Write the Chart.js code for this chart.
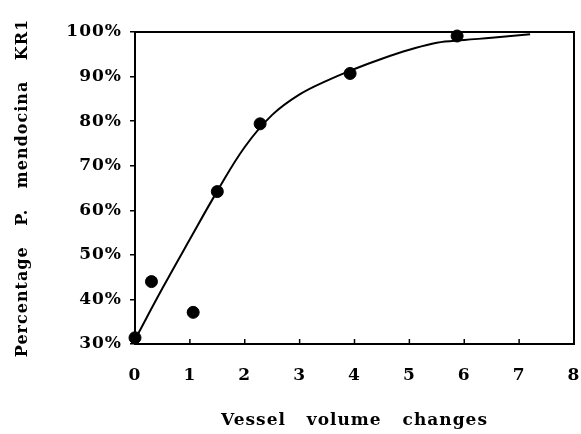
<!DOCTYPE html>
<html>
<head>
<meta charset="utf-8">
<script src="https://cdn.jsdelivr.net/npm/chart.js@4/dist/chart.umd.min.js"></script>
<style>
  body { margin: 0; background: #fff; }
  canvas { display: block; }
</style>
</head>
<body>
<canvas id="chart" width="581" height="434"></canvas>
<script>
// Puntos medidos
const volumeChanges = [0, 0.30, 1.06, 1.50, 2.28, 3.92, 5.87];
const percentKR1 = [31.4, 44.0, 37.1, 64.2, 79.4, 90.7, 99.1];

// Curva ajustada
const curveX = [0, 0.5, 1, 1.5, 2, 2.5, 3, 3.5, 4, 4.5, 5, 5.5, 6, 6.5, 7.2];
const curveY = [31, 42.5, 53.5, 64.3, 74.2, 81.4, 86.0, 89.1, 91.7, 94.0, 96.0, 97.6, 98.2, 98.7, 99.5];

const xTicks = [0, 1, 2, 3, 4, 5, 6, 7, 8];
const yTicks = [30, 40, 50, 60, 70, 80, 90, 100];

const serif = "'DejaVu Serif', 'Liberation Serif', serif";

// Espaciado de letras como en la figura original
function spacing(chart) {
    chart.ctx.letterSpacing = '1px';
    chart.ctx.wordSpacing = '14px';
}

// Marco completo y marcas del eje X hacia dentro
const framePlugin = {
    id: 'frame',
    beforeUpdate: spacing,
    beforeLayout: spacing,
    beforeDraw: spacing,
    beforeDatasetsDraw(chart) {
        const { ctx, chartArea: a, scales } = chart;
        ctx.save();
        ctx.strokeStyle = '#000';
        ctx.lineWidth = 2;
        ctx.strokeRect(a.left, a.top, a.right - a.left, a.bottom - a.top);
        ctx.lineWidth = 1.5;
        xTicks.forEach(v => {
            const px = scales.x.getPixelForValue(v);
            ctx.beginPath();
            ctx.moveTo(px, a.bottom);
            ctx.lineTo(px, a.bottom - 5);
            ctx.stroke();
        });
        ctx.restore();
    }
};

const ctx = document.getElementById('chart').getContext('2d');
new Chart(ctx, {
    type: 'scatter',
    data: {
        datasets: [
            {
                label: 'Curva',
                data: curveX.map((x, i) => ({ x: x, y: curveY[i] })),
                showLine: true,
                borderColor: '#000',
                borderWidth: 2,
                pointRadius: 0,
                tension: 0.4,
                clip: false
            },
            {
                label: 'Medido',
                data: volumeChanges.map((x, i) => ({ x: x, y: percentKR1[i] })),
                backgroundColor: '#000',
                borderColor: '#000',
                pointRadius: 6,
                clip: false
            }
        ]
    },
    options: {
        responsive: false,
        animation: false,
        layout: { padding: { top: 32, right: 6, left: 0, bottom: 0 } },
        plugins: {
            legend: { display: false },
            tooltip: { enabled: false }
        },
        scales: {
            x: {
                type: 'linear',
                min: 0,
                max: 8,
                afterBuildTicks: s => { s.ticks = xTicks.map(v => ({ value: v })); },
                grid: { display: false },
                border: { display: true, color: '#000', width: 2 },
                ticks: {
                    color: '#000',
                    padding: 13,
                    font: { family: serif, size: 17, weight: 'bold' }
                },
                title: {
                    display: true,
                    text: 'Vessel volume changes',
                    color: '#000',
                    padding: { top: 30, bottom: 3 },
                    font: { family: serif, size: 17, weight: 'bold' }
                },
                afterFit: s => {
                    s.height = 90;
                    s.paddingLeft = 0;
                    s.paddingRight = 0;
                }
            },
            y: {
                min: 30,
                max: 100,
                afterBuildTicks: s => { s.ticks = yTicks.map(v => ({ value: v })); },
                grid: {
                    display: true,
                    drawOnChartArea: false,
                    drawTicks: true,
                    tickLength: 5,
                    color: '#000',
                    lineWidth: 1.5
                },
                border: { display: true, color: '#000', width: 2 },
                ticks: {
                    color: '#000',
                    padding: 8,
                    font: { family: serif, size: 17, weight: 'bold' },
                    callback: v => v + '%'
                },
                title: {
                    display: true,
                    text: 'Percentage P. mendocina KR1',
                    color: '#000',
                    padding: { top: 13, bottom: 0 },
                    font: { family: serif, size: 16, weight: 'bold' }
                },
                afterFit: s => {
                    s.width = 135;
                    s.paddingTop = 0;
                    s.paddingBottom = 0;
                }
            }
        }
    },
    plugins: [framePlugin]
});
</script>
</body>
</html>
